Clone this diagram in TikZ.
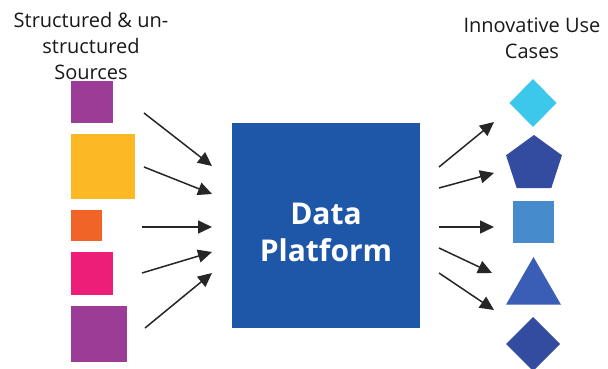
\documentclass[tikz,border=0pt]{standalone}
\usepackage{fontspec}
\setmainfont{Open Sans}
\usetikzlibrary{arrows.meta,shapes.geometric}
\definecolor{srcpurple}{RGB}{155,60,150}
\definecolor{srcyellow}{RGB}{252,185,35}
\definecolor{srcorange}{RGB}{240,100,40}
\definecolor{srcpink}{RGB}{236,30,120}
\definecolor{dpblue}{RGB}{30,87,168}
\definecolor{uccyan}{RGB}{60,200,235}
\definecolor{ucdark}{RGB}{52,76,160}
\definecolor{ucmid}{RGB}{58,93,181}
\definecolor{uclight}{RGB}{70,140,205}
\definecolor{arrowgray}{RGB}{38,38,38}
\definecolor{labelgray}{RGB}{25,25,25}
\tikzset{every node/.append style={font=\fontsize{20}{26}\selectfont,text=labelgray}}
\tikzset{src/.style={rectangle,inner sep=0pt,outer sep=0pt,anchor=north west}}
\tikzset{usecase/.style={inner sep=0pt,outer sep=0pt}}
\tikzset{flow/.style={draw=arrowgray,line width=1.5pt,-{Triangle[length=14pt,width=13pt]}}}

\begin{document}
\begin{tikzpicture}[x=1pt,y=-1pt]
  \useasboundingbox[fill=white] (0,0) rectangle (608,369);

  % sources
  \node[align=center] (srclabel) at (91,46) {Structured \& un-\\structured\\Sources};
  \node[src,fill=srcpurple,minimum width=42pt,minimum height=42pt] (s1) at (71,81) {};
  \node[src,fill=srcyellow,minimum width=64pt,minimum height=65pt] (s2) at (71,134) {};
  \node[src,fill=srcorange,minimum width=31pt,minimum height=31pt] (s3) at (71,210) {};
  \node[src,fill=srcpink,minimum width=42pt,minimum height=43pt] (s4) at (71,252) {};
  \node[src,fill=srcpurple,minimum width=56pt,minimum height=56pt] (s5) at (71,306) {};

  % platform
  \node[rectangle,fill=dpblue,inner sep=0pt,minimum width=188pt,minimum height=205pt] (dp) at (326,225.5) {};
  \node[align=center,text=white,font=\fontsize{30}{37}\bfseries\selectfont] (dptext) at (326,232) {Data\\Platform};

  % use cases
  \node[align=center] (uclabel) at (532,38) {Innovative Use\\Cases};
  \node[usecase,diamond,fill=uccyan,minimum width=47pt,minimum height=48pt] (u1) at (533,103) {};
  \node[usecase,regular polygon,regular polygon sides=5,fill=ucdark,minimum size=58.8pt] (u2) at (534,164.4) {};
  \node[usecase,rectangle,fill=uclight,minimum width=41pt,minimum height=42pt] (u3) at (533.5,222) {};
  \node[usecase,regular polygon,regular polygon sides=3,fill=ucmid,minimum size=63.5pt] (u4) at (533.5,288.8) {};
  \node[usecase,diamond,fill=ucdark,minimum width=54pt,minimum height=54pt] (u5) at (533,344) {};

  % arrows in
  \foreach \a/\b/\c/\d [count=\i] in {144/113/212/166, 144/167/212/194, 142/227/212/227, 142/273/212/252, 145/328/212/273}{
    \coordinate (in\i) at (\a,\b);
    \coordinate (inend\i) at (\c,\d);
    \draw[flow] (in\i) -- (inend\i);
  };

  % arrows out
  \foreach \a/\b/\c/\d [count=\i] in {439/167/494/122, 439/188/494/173, 439/227/494/227, 439/248/492/273, 439/273/494/310}{
    \coordinate (out\i) at (\a,\b);
    \coordinate (outend\i) at (\c,\d);
    \draw[flow] (out\i) -- (outend\i);
  };
\end{tikzpicture}
\end{document}
